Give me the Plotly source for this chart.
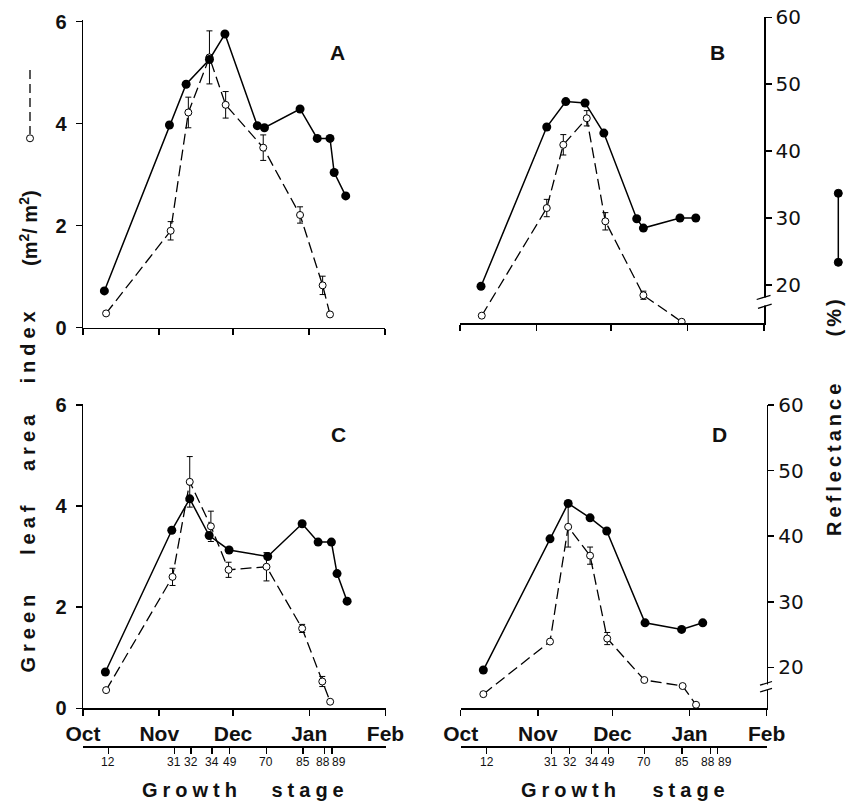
import plotly.graph_objects as go

W, H = 847, 803
FONT = "Liberation Sans"
INK = "#111111"

# ---------------- data ----------------
months = ["Oct", "Nov", "Dec", "Jan", "Feb"]
month_days = [0, 31, 61, 92, 123]          # days after 1 Oct

stage_labels = ["12", "31", "32", "34", "49", "70", "85", "88", "89"]
stage_days_C = [10.3, 37.1, 43.9, 52.4, 59.6, 74.5, 89.5, 98.3, 101.3]
stage_days_D = [10.4, 36.4, 43.8, 52.6, 59.4, 73.8, 89.0, 100.5, 103.2]

# Panel A
A_refl_day = [8.7, 35.2, 42.0, 51.5, 57.8, 71.0, 73.9, 88.4, 95.4, 100.6, 102.3, 107.0]
A_refl = [19.1, 43.9, 50.0, 53.7, 57.5, 43.8, 43.5, 46.3, 41.9, 41.9, 36.8, 33.3]
A_lai_day = [9.4, 35.7, 42.9, 51.5, 58.1, 73.4, 88.4, 97.6, 100.6]
A_lai = [0.28, 1.90, 4.22, 5.30, 4.37, 3.53, 2.21, 0.83, 0.26]
A_lai_err = [None, 0.18, 0.30, 0.52, 0.26, 0.25, 0.16, 0.18, None]

# Panel B
B_refl_day = [8.5, 35.1, 42.8, 50.6, 58.2, 71.5, 74.2, 89.0, 95.4]
B_refl = [19.8, 43.6, 47.4, 47.2, 42.7, 29.9, 28.5, 30.0, 30.0]
B_lai_day = [8.8, 35.1, 41.8, 51.3, 58.8, 74.2, 89.7]
B_lai = [0.15, 2.26, 3.50, 4.02, 2.00, 0.55, 0.03]
B_lai_err = [None, 0.17, 0.20, 0.15, 0.17, 0.08, None]

# Panel C
C_refl_day = [9.1, 36.1, 43.4, 51.3, 59.4, 75.1, 89.1, 95.6, 101.0, 103.3, 107.4]
C_refl = [19.3, 40.9, 45.7, 40.1, 37.9, 36.9, 41.9, 39.1, 39.1, 34.3, 30.1]
C_lai_day = [9.4, 36.4, 43.4, 52.0, 59.2, 74.6, 89.1, 97.3, 100.5]
C_lai = [0.36, 2.60, 4.48, 3.60, 2.74, 2.80, 1.58, 0.53, 0.13]
C_lai_err = [None, 0.17, 0.50, 0.30, 0.15, 0.28, 0.08, 0.10, None]

# Panel D
D_refl_day = [9.1, 35.9, 43.2, 52.0, 58.7, 74.1, 88.8, 97.3]
D_refl = [19.6, 39.6, 45.0, 42.8, 40.8, 26.8, 25.8, 26.8]
D_lai_day = [9.1, 35.9, 43.2, 52.0, 58.9, 73.8, 89.2, 94.6]
D_lai = [0.28, 1.32, 3.59, 3.02, 1.38, 0.56, 0.44, 0.07]
D_lai_err = [None, None, 0.40, 0.17, 0.12, None, None, None]


def fx(px):
    return px / W


def fy(py):
    return 1 - py / H


fig = go.Figure()


def lai_trace(x, y, err, xa, ya):
    return go.Scatter(
        x=x, y=y, xaxis=xa, yaxis=ya, mode="lines+markers",
        line=dict(color="black", width=1.3, dash="11px,5px"),
        marker=dict(symbol="circle", size=7, color="white",
                    line=dict(color="black", width=1)),
        error_y=dict(type="data", array=err, color="black", thickness=1, width=3),
        showlegend=False, hoverinfo="skip")


def refl_trace(x, y, xa, ya):
    return go.Scatter(
        x=x, y=y, xaxis=xa, yaxis=ya, mode="lines+markers",
        line=dict(color="black", width=1.5),
        marker=dict(symbol="circle", size=9, color="black"),
        showlegend=False, hoverinfo="skip")


fig.add_trace(lai_trace(A_lai_day, A_lai, A_lai_err, "x", "y"))
fig.add_trace(refl_trace(A_refl_day, A_refl, "x", "y5"))
fig.add_trace(refl_trace(B_refl_day, B_refl, "x2", "y2"))
fig.add_trace(lai_trace(B_lai_day, B_lai, B_lai_err, "x2", "y6"))
fig.add_trace(lai_trace(C_lai_day, C_lai, C_lai_err, "x3", "y3"))
fig.add_trace(refl_trace(C_refl_day, C_refl, "x3", "y7"))
fig.add_trace(refl_trace(D_refl_day, D_refl, "x4", "y4"))
fig.add_trace(lai_trace(D_lai_day, D_lai, D_lai_err, "x4", "y8"))
# register growth-stage axes
fig.add_trace(go.Scatter(x=[None], y=[None], xaxis="x5", yaxis="y3", showlegend=False, hoverinfo="skip"))
fig.add_trace(go.Scatter(x=[None], y=[None], xaxis="x6", yaxis="y4", showlegend=False, hoverinfo="skip"))

tick_month_font = dict(family=FONT, size=21, color=INK, weight="bold")


def xaxis(domain, anchor, labels):
    return dict(domain=domain, anchor=anchor, range=[0, 123], tickmode="array",
                tickvals=month_days, ticktext=months, showticklabels=labels,
                ticks="outside", ticklen=6, tickwidth=1.5, tickcolor="black",
                showline=True, linecolor="black", linewidth=1.5, automargin=False,
                showgrid=False, zeroline=False, tickfont=tick_month_font)


def lai_axis(domain, anchor, rng):
    return dict(domain=domain, anchor=anchor, range=rng, tickmode="array",
                tickvals=[0, 2, 4, 6], ticks="outside", ticklen=6, tickwidth=1.5,
                tickcolor="black", showline=True, linecolor="black", linewidth=1.5,
                showgrid=False, zeroline=False, ticklabelstandoff=5, automargin=False,
                tickfont=dict(family=FONT, size=20, color=INK, weight="bold"))


def refl_axis(domain, anchor, rng):
    return dict(domain=domain, anchor=anchor, side="right", range=rng, tickmode="array",
                tickvals=[20, 30, 40, 50, 60], ticks="outside", ticklen=6, tickwidth=1.5,
                tickcolor="black", showline=True, linecolor="black", linewidth=1.5,
                showgrid=False, zeroline=False, ticklabelstandoff=0, automargin=False,
                tickfont=dict(family="DejaVu Sans", size=20, color=INK))


def hidden(over, rng):
    return dict(overlaying=over, range=rng, visible=False, showgrid=False,
                zeroline=False, automargin=False)


def stage_axis(over, vals):
    return dict(overlaying=over, anchor="free", position=fy(746.7), range=[0, 123],
                tickmode="array", tickvals=vals, showticklabels=False,
                ticks="outside", ticklen=6, tickwidth=1.3, tickcolor="black",
                showline=True, linecolor="black", linewidth=2.2, automargin=False,
                showgrid=False, zeroline=False)


layout = dict(
    template="none",
    width=W, height=H, margin=dict(l=0, r=0, t=0, b=0, pad=0, autoexpand=False),
    paper_bgcolor="white", plot_bgcolor="white", showlegend=False,
    xaxis=xaxis([fx(83), fx(385)], "y", False),
    xaxis2=xaxis([fx(460), fx(764)], "y2", False),
    xaxis3=xaxis([fx(83), fx(385.5)], "y3", True),
    xaxis4=xaxis([fx(460.7), fx(766.7)], "y4", True),
    xaxis5=stage_axis("x3", stage_days_C),
    xaxis6=stage_axis("x4", stage_days_D),
    yaxis=lai_axis([fy(327.7), fy(20)], "x", [0, 6.033]),
    yaxis5=hidden("y", [13.6, 59.6]),
    yaxis2=refl_axis([fy(323.3), fy(17.3)], "x2", [14.27, 60]),
    yaxis6=hidden("y2", [0, 6.0]),
    yaxis3=lai_axis([fy(708.3), fy(404)], "x3", [0, 6.02]),
    yaxis7=hidden("y3", [13.77, 60.15]),
    yaxis4=refl_axis([fy(708.3), fy(405)], "x4", [13.77, 60]),
    yaxis8=hidden("y4", [0, 6.0]),
)
fig.update_layout(**layout)

ann = []
# panel letters
for t, x, y in [("A", 337.5, 52.5), ("B", 717.5, 52.3), ("C", 338, 435), ("D", 719, 434)]:
    ann.append(dict(text=t, x=fx(x), y=fy(y), xref="paper", yref="paper",
                    xanchor="center", yanchor="middle", showarrow=False,
                    font=dict(family=FONT, size=21, color=INK, weight="bold")))

# growth stage labels
shifts_C = {"88": -1.5, "89": 6.5}
shifts_D = {"88": -3, "89": 8}
for xa, days, shifts in [("x5", stage_days_C, shifts_C), ("x6", stage_days_D, shifts_D)]:
    for lab, d in zip(stage_labels, days):
        ann.append(dict(text=lab, x=d, xref=xa, y=fy(761.7), yref="paper",
                        xanchor="center", yanchor="middle", showarrow=False,
                        xshift=shifts.get(lab, 0),
                        font=dict(family=FONT, size=12, color=INK)))

# "Growth stage" titles
for t, x in [("Growth", 191.5), ("stage", 310), ("Growth", 570.5), ("stage", 690.5)]:
    ann.append(dict(text=t, x=fx(x), y=fy(789.5), xref="paper", yref="paper",
                    xanchor="center", yanchor="middle", showarrow=False,
                    font=dict(family=FONT, size=20, color=INK, weight="bold")))

# left title words (rotated)
for t, y in [("Green", 631), ("leaf", 528), ("area", 440), ("index", 345),
             ("(m<sup>2</sup>/ m<sup>2</sup>)", 228)]:
    ann.append(dict(text=t, x=fx(28), y=fy(y), xref="paper", yref="paper",
                    xanchor="center", yanchor="middle", showarrow=False, textangle=-90,
                    font=dict(family=FONT, size=20, color=INK, weight="bold")))

# right title words (rotated)
for t, y in [("Reflectance", 458), ("(%)", 317)]:
    ann.append(dict(text=t, x=fx(834), y=fy(y), xref="paper", yref="paper",
                    xanchor="center", yanchor="middle", showarrow=False, textangle=-90,
                    font=dict(family=FONT, size=20, color=INK, weight="bold")))

fig.update_layout(annotations=ann)

shapes = []
# legend keys
shapes.append(dict(type="line", xref="paper", yref="paper", x0=fx(30), x1=fx(30),
                   y0=fy(70), y1=fy(134), line=dict(color="black", width=1.3, dash="9px,5px")))
shapes.append(dict(type="circle", xref="paper", yref="paper", x0=fx(26.5), x1=fx(33.5),
                   y0=fy(134.8), y1=fy(141.8), fillcolor="white", line=dict(color="black", width=1)))
shapes.append(dict(type="line", xref="paper", yref="paper", x0=fx(838.3), x1=fx(838.3),
                   y0=fy(193.3), y1=fy(262.3), line=dict(color="black", width=1.5)))
for cy in (193.3, 262.3):
    shapes.append(dict(type="circle", xref="paper", yref="paper", x0=fx(834.3), x1=fx(842.3),
                       y0=fy(cy - 4), y1=fy(cy + 4), fillcolor="black", line=dict(color="black", width=1)))

# axis breaks on the reflectance axes
for ax, g0, g1, m1, m2 in [(764, 297.5, 305.5, (756.7, 299.5, 770.5, 295.3), (758, 308.3, 771.7, 304.2)),
                           (766.7, 684.5, 689.8, (760, 685.2, 772, 681.5), (760, 692, 772, 688.3))]:
    shapes.append(dict(type="rect", xref="paper", yref="paper", x0=fx(ax - 3), x1=fx(ax + 3),
                       y0=fy(g1), y1=fy(g0), fillcolor="white", line=dict(width=0), layer="above"))
    for (a, b, c, d) in (m1, m2):
        shapes.append(dict(type="line", xref="paper", yref="paper", x0=fx(a), y0=fy(b),
                           x1=fx(c), y1=fy(d), line=dict(color="black", width=1.3), layer="above"))

fig.update_layout(shapes=shapes)

post = """
document.body.style.margin = '0';
document.body.style.padding = '0';
document.documentElement.style.overflow = 'hidden';
var ls = {"Growth":"5px","stage":"5px","Green":"5px","leaf":"5px","area":"5px",
          "index":"5px","Reflectance":"4px","(%)":"3px","(m2/ m2)":"4px"};
document.querySelectorAll('text.annotation-text').forEach(function(t){
  var v = ls[t.textContent]; if (v) { t.style.letterSpacing = v; }
});
"""

fig.write_html("out.html", post_script=post, config={"displayModeBar": False, "staticPlot": True})
